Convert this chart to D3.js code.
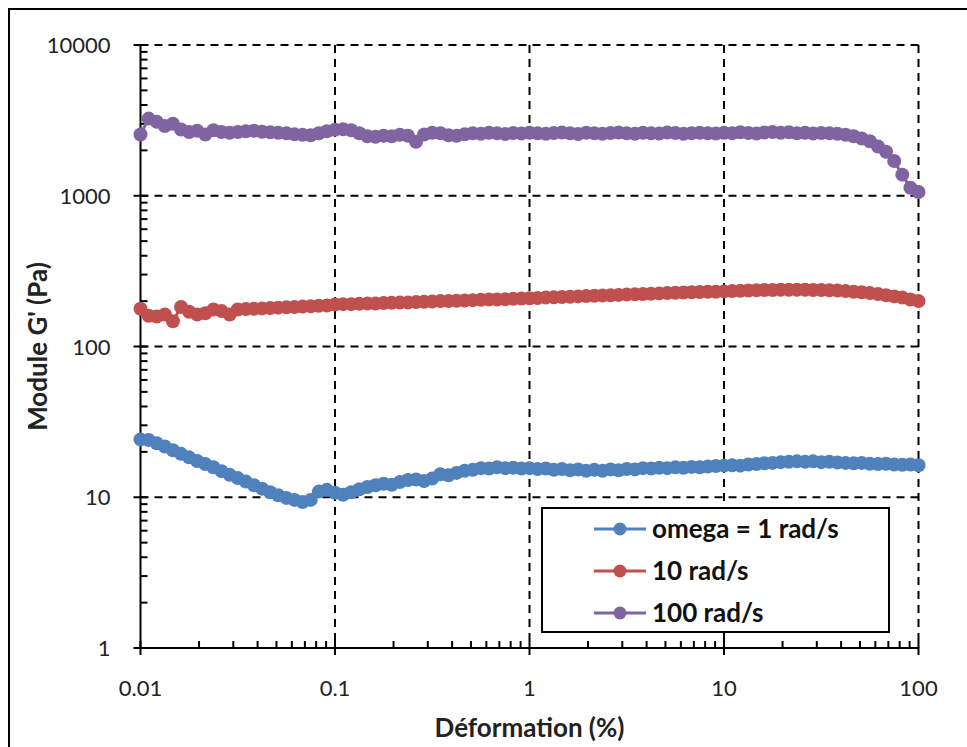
<!DOCTYPE html>
<html><head><meta charset="utf-8">
<script src="https://cdn.jsdelivr.net/npm/d3@7"></script>
<style>body{margin:0;background:#fff}svg{display:block}</style>
</head><body>
<script>
const strain = [
0.01,0.01101,0.01212,0.01334,0.01468,0.01616,0.01778,0.01957,0.02154,0.02371,0.0261,0.02873,0.03162,0.03481,0.03831,0.04217,0.04642,0.05109,0.05623,0.0619,0.06813,0.07499,0.08254,0.09085,
0.1,0.1101,0.1212,0.1334,0.1468,0.1616,0.1778,0.1957,0.2154,0.2371,0.261,0.2873,0.3162,0.3481,0.3831,0.4217,0.4642,0.5109,0.5623,0.619,0.6813,0.7499,0.8254,0.9085,
1,1.101,1.212,1.334,1.468,1.616,1.778,1.957,2.154,2.371,2.61,2.873,3.162,3.481,3.831,4.217,4.642,5.109,5.623,6.19,6.813,7.499,8.254,9.085,
10,11.01,12.12,13.34,14.68,16.16,17.78,19.57,21.54,23.71,26.1,28.73,31.62,34.81,38.31,42.17,46.42,51.09,56.23,61.9,68.13,74.99,82.54,90.85,100];

const g1 = [
24.2,24.0,22.8,21.7,20.5,19.4,18.4,17.4,16.6,15.8,14.9,14.1,13.4,12.7,12.0,11.4,10.8,10.3,9.9,9.6,9.3,9.6,10.9,11.2,
10.7,10.4,10.8,11.3,11.7,12.0,12.3,12.1,12.6,13.0,13.1,12.8,13.3,14.2,14.0,14.5,15.0,15.2,15.6,15.5,15.8,15.6,15.7,15.5,
15.6,15.4,15.5,15.2,15.4,15.1,15.3,15.0,15.2,15.0,15.3,15.1,15.4,15.3,15.6,15.5,15.7,15.6,15.8,15.7,15.9,15.8,16.0,16.1,
16.2,16.3,16.2,16.5,16.6,16.8,16.9,17.1,17.2,17.3,17.2,17.3,17.1,17.2,17.0,16.9,16.8,16.9,16.7,16.6,16.7,16.5,16.4,16.5,16.3];

const g10 = [
178,160,158,163,147,183,170,163,166,176,172,163,176,177,178,179,180,181,182,183,184,185,186,187,
190,191,191,192,193,193,194,195,196,196,197,198,199,200,200,201,202,203,204,205,205,206,207,208,
209,210,211,212,213,214,215,216,217,218,219,220,221,222,223,224,225,226,227,228,229,230,231,231,
232,233,234,235,236,237,237,238,238,238,238,237,237,236,235,233,231,229,226,223,219,215,211,205,200];

const g100 = [
2550,3250,3100,2900,3000,2750,2650,2700,2550,2720,2650,2620,2650,2680,2700,2660,2640,2620,2600,2560,2540,2520,2600,2680,
2740,2760,2720,2600,2480,2460,2500,2480,2540,2500,2280,2550,2620,2600,2520,2500,2560,2600,2580,2620,2600,2570,2610,2590,
2620,2600,2580,2610,2630,2600,2570,2620,2600,2580,2610,2630,2600,2580,2620,2600,2590,2630,2610,2580,2600,2620,2600,2590,
2620,2600,2640,2610,2590,2630,2650,2620,2640,2600,2620,2590,2610,2600,2580,2540,2480,2400,2300,2120,1960,1700,1380,1130,1060];

const seriesNames = ["omega = 1 rad/s","10 rad/s","100 rad/s"];
const seriesColors = ["#4F81BD","#C0504D","#8064A2"];
const seriesValues = [g1,g10,g100];
const xTickLabels = ["0.01","0.1","1","10","100"];
const yTickLabels = ["1","10","100","1000","10000"];
const xLabel = "Déformation (%)";
const yLabel = "Module G' (Pa)";

const W=967,H=747;
const L=140.5,R=918.5,T=45,B=648;
const svg=d3.select("body").append("svg").attr("width",W).attr("height",H);
svg.append("rect").attr("x",9).attr("y",9).attr("width",980).attr("height",760)
  .attr("fill","none").attr("stroke","#000").attr("stroke-width",2);

const x=d3.scaleLog().domain([0.01,100]).range([L,R]);
const y=d3.scaleLog().domain([1,10000]).range([B,T]);
const xt=xTickLabels.map(Number), yt=yTickLabels.map(Number);

// grid
const grid=svg.append("g").attr("stroke","#000").attr("stroke-width",2).attr("stroke-dasharray","8,6");
xt.slice(1).forEach(v=>grid.append("line").attr("x1",x(v)).attr("x2",x(v)).attr("y1",T).attr("y2",B));
yt.slice(1).forEach(v=>grid.append("line").attr("x1",L).attr("x2",R).attr("y1",y(v)).attr("y2",y(v)));

// ticks
const minorX=[],minorY=[];
for(let d=0;d<4;d++)for(let k=2;k<10;k++){minorX.push(xt[d]*k);minorY.push(yt[d]*k);}
const ax=svg.append("g").attr("stroke","#000").attr("stroke-width",2);
minorX.forEach(v=>ax.append("line").attr("x1",x(v)).attr("x2",x(v)).attr("y1",B).attr("y2",B-7));
minorY.forEach(v=>ax.append("line").attr("x1",L).attr("x2",L+7).attr("y1",y(v)).attr("y2",y(v)));
xt.forEach(v=>ax.append("line").attr("x1",x(v)).attr("x2",x(v)).attr("y1",B-7).attr("y2",B+7));
yt.forEach(v=>ax.append("line").attr("x1",L-7).attr("x2",L+7).attr("y1",y(v)).attr("y2",y(v)));
ax.append("line").attr("x1",L).attr("x2",R).attr("y1",B).attr("y2",B);
ax.append("line").attr("x1",L).attr("x2",L).attr("y1",T).attr("y2",B);

const font="Lato, 'Open Sans', sans-serif";
svg.append("g").selectAll("text").data(xTickLabels).join("text")
  .attr("x",d=>x(+d)).attr("y",B+48).attr("text-anchor","middle")
  .attr("font-family",font).attr("font-size",22).attr("fill","#222").text(d=>d);
svg.append("g").selectAll("text").data(yTickLabels).join("text")
  .attr("x",L-30).attr("y",d=>y(+d)+8).attr("text-anchor","end")
  .attr("font-family",font).attr("font-size",22).attr("fill","#222").text(d=>d);
svg.append("text").attr("x",(L+R)/2).attr("y",737).attr("text-anchor","middle")
  .attr("font-family",font).attr("font-size",26).attr("font-weight","bold").attr("fill","#222").text(xLabel);
svg.append("text").attr("transform",`translate(47,${(T+B)/2}) rotate(-90)`).attr("text-anchor","middle")
  .attr("font-family",font).attr("font-size",26).attr("font-weight","bold").attr("fill","#222").text(yLabel);

// series
const line=d3.line().x((d,i)=>x(strain[i])).y(d=>y(d));
seriesValues.forEach((vals,si)=>{
  const g=svg.append("g");
  g.append("path").datum(vals).attr("d",line).attr("fill","none")
    .attr("stroke",seriesColors[si]).attr("stroke-width",3);
  g.selectAll("circle").data(vals).join("circle")
    .attr("cx",(d,i)=>x(strain[i])).attr("cy",d=>y(d)).attr("r",7)
    .attr("fill",seriesColors[si]);
});

// legend
const lg=svg.append("g");
lg.append("rect").attr("x",542).attr("y",508).attr("width",347).attr("height",124)
  .attr("fill","#fff").attr("stroke","#000").attr("stroke-width",2);
seriesNames.forEach((n,i)=>{
  const yy=529+i*42;
  lg.append("line").attr("x1",594).attr("x2",646).attr("y1",yy).attr("y2",yy)
    .attr("stroke",seriesColors[i]).attr("stroke-width",3);
  lg.append("circle").attr("cx",620).attr("cy",yy).attr("r",6.5).attr("fill",seriesColors[i]);
  lg.append("text").attr("x",652).attr("y",yy+9).attr("font-family",font).attr("font-size",26)
    .attr("font-weight","bold").attr("fill","#111").text(n);
});
</script>
</body></html>
